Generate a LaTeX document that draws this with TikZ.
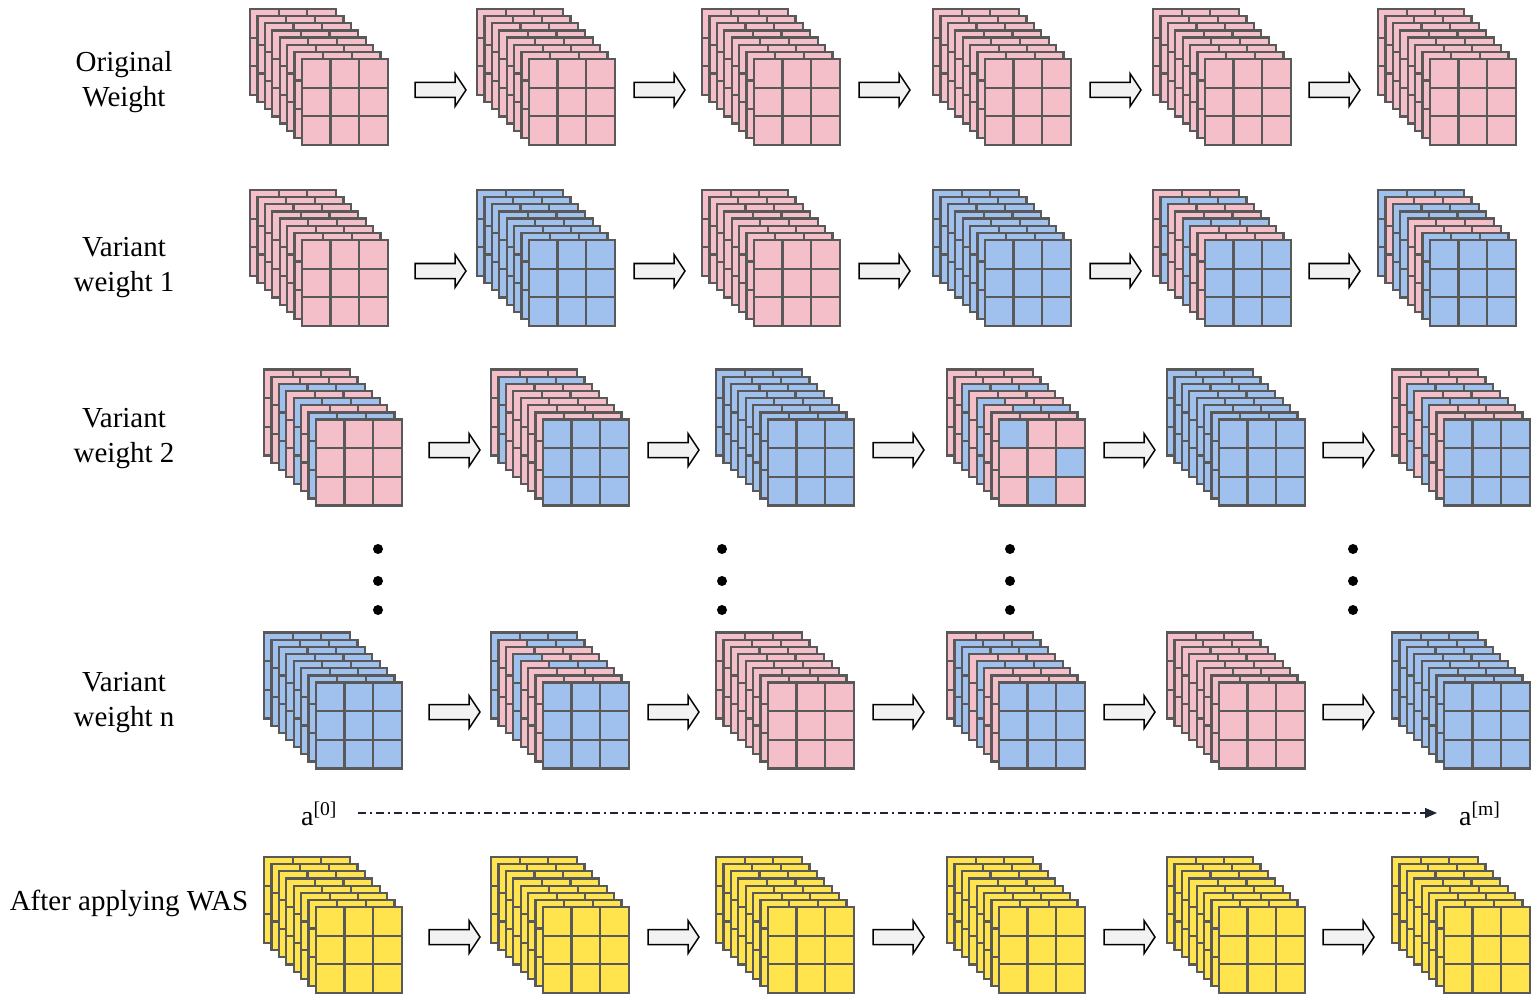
\documentclass[tikz,border=0pt]{standalone}
\usepackage{fontspec}
\setmainfont{Liberation Serif}
\usetikzlibrary{arrows.meta}
\definecolor{pk}{HTML}{F5BFCA}
\definecolor{bl}{HTML}{A0C1EE}
\definecolor{yl}{HTML}{FFE44D}
\definecolor{gridc}{HTML}{595959}
\definecolor{arrfill}{HTML}{F2F2F2}
\definecolor{dashc}{HTML}{1F2533}
\tikzset{
  gridline/.style={draw=gridc, line width=2.2pt},
  barr/.style={draw=black, fill=arrfill, line width=1.5pt, line join=miter},
  lbl/.style={font=\fontsize{29}{35}\selectfont, align=center, inner sep=0pt},
  albl/.style={font=\fontsize{28}{34}\selectfont, inner sep=0pt},
  dotn/.style={circle, fill=black, minimum size=10pt, inner sep=0pt},
}
% one layer: x y base-colour top-right-cells colour
\newcommand\wlayer[4]{%
  \fill[#3] (#1,#2) rectangle ++(86,86);
  \fill[#4] ({#1+28.67},#2) rectangle ++(57.33,28.67);
  \draw[gridline] (#1,#2) rectangle ++(86,86);
  \draw[gridline] ({#1+28.67},#2) -- ++(0,86) ({#1+57.33},#2) -- ++(0,86)
    (#1,{#2+28.67}) -- ++(86,0) (#1,{#2+57.33}) -- ++(86,0);}
% stack: name x y colour list (back to front)
\newcommand\wstack[4]{%
  \edef\tmplist{#4}%
  \begin{scope}[local bounding box=#1]
  \foreach \c/\t [count=\i from 0] in \tmplist {\wlayer{#2+7.4*\i}{#3+7.15*\i}{\c}{\t}}
  \end{scope}}
% block arrow: name x-left y-centre
\newcommand\barrow[3]{%
  \draw[barr] (#2,#3-7.5) -- ++(40,0) -- ++(0,-9) -- ++(11,16.5) coordinate (#1) -- ++(-11,16.5) -- ++(0,-9) -- ++(-40,0) -- cycle;}
\begin{document}
\begin{tikzpicture}[x=1pt,y=-1pt]
\useasboundingbox (0,0) rectangle (1537,1003);
% labels
\node[lbl] (l1) at (124,82) {Original\\Weight};
\node[lbl] (l2) at (124,268) {Variant\\weight 1};
\node[lbl] (l3) at (124,439) {Variant\\weight 2};
\node[lbl] (l4) at (124,702.5) {Variant\\weight n};
\node[lbl] (l5) at (129,903.5) {After applying WAS};
\def\P{pk,pk,pk,pk,pk,pk,pk,pk}
\def\B{bl,bl,bl,bl,bl,bl,bl,bl}
\def\Y{yl,yl,yl,yl,yl,yl,yl,yl}
% row 1
\wstack{s11}{250}{9}{\P}
\wstack{s12}{477}{9}{\P}
\wstack{s13}{702}{9}{\P}
\wstack{s14}{933}{9}{\P}
\wstack{s15}{1153}{9}{\P}
\wstack{s16}{1378}{9}{\P}
% row 2
\wstack{s21}{250}{190}{\P}
\wstack{s22}{477}{190}{\B}
\wstack{s23}{702}{190}{\P}
\wstack{s24}{933}{190}{\B}
\wstack{s25}{1153}{190}{pk,bl,pk,pk,bl,pk,pk,bl}
\wstack{s26}{1378}{190}{bl,pk,bl,bl,pk,pk,bl,bl}
% row 3
\wstack{s31}{264}{369.5}{pk,pk,bl,pk,bl,pk,bl,pk}
\wstack{s32}{491}{369.5}{pk,bl,pk,pk,pk,pk,pk,bl}
\wstack{s33}{716}{369.5}{\B}
\wstack{s34}{947}{369.5}{pk,pk,bl,pk,bl/pk,pk/bl,pk,pk}
\wstack{s35}{1167}{369.5}{\B}
\wstack{s36}{1392}{369.5}{pk,pk,bl,pk,bl,pk,pk,bl}
% mixed front cells of s34
\begin{scope}
\def\fx{998.8}\def\fy{419.55}
\fill[bl] (\fx,\fy) rectangle ++(28.67,28.67);
\fill[bl] ({\fx+57.33},{\fy+28.67}) rectangle ++(28.67,28.67);
\fill[bl] ({\fx+28.67},{\fy+57.33}) rectangle ++(28.67,28.67);
\draw[gridline] (\fx,\fy) rectangle ++(86,86);
\draw[gridline] ({\fx+28.67},\fy) -- ++(0,86) ({\fx+57.33},\fy) -- ++(0,86)
    (\fx,{\fy+28.67}) -- ++(86,0) (\fx,{\fy+57.33}) -- ++(86,0);
\end{scope}
% dots
\foreach \x [count=\k] in {378,722,1010,1353} {
  \node[dotn] (d\k a) at (\x,549) {};
  \node[dotn] (d\k b) at (\x,581) {};
  \node[dotn] (d\k c) at (\x,610) {};
}
% row n
\wstack{s41}{264}{632.5}{\B}
\wstack{s42}{491}{632.5}{bl,pk/bl,pk,bl/pk,pk/bl,pk,pk,bl}
\wstack{s43}{716}{632.5}{\P}
\wstack{s44}{947}{632.5}{pk,bl,bl,pk,bl,pk,pk,bl}
\wstack{s45}{1167}{632.5}{\P}
\wstack{s46}{1392}{632.5}{\B}
% WAS row
\wstack{s51}{264}{857}{\Y}
\wstack{s52}{491}{857}{\Y}
\wstack{s53}{716}{857}{\Y}
\wstack{s54}{947}{857}{\Y}
\wstack{s55}{1167}{857}{\Y}
\wstack{s56}{1392}{857}{\Y}
% arrows
\foreach \x [count=\k] in {415,634,859,1090,1309} {
  \barrow{a1\k}{\x}{90}
  \barrow{a2\k}{\x}{271}
}
\foreach \x [count=\k] in {429,648,873,1104,1323} {
  \barrow{a3\k}{\x}{450}
  \barrow{a4\k}{\x}{712}
  \barrow{a5\k}{\x}{937}
}
% a labels and dash-dot arrow
\node[albl, anchor=base west] (a0) at (301,825) {a\textsuperscript{[0]}};
\node[albl, anchor=base west] (am) at (1459,825) {a\textsuperscript{[m]}};
\draw[dashc, line width=1.3pt, dash pattern=on 8pt off 4pt on 2pt off 4pt,
  -{Triangle[length=12pt,width=10pt]}] ([xshift=21pt]a0.east |- 0,813) -- ([xshift=-22pt]am.west |- 0,813);
\end{tikzpicture}
\end{document}
